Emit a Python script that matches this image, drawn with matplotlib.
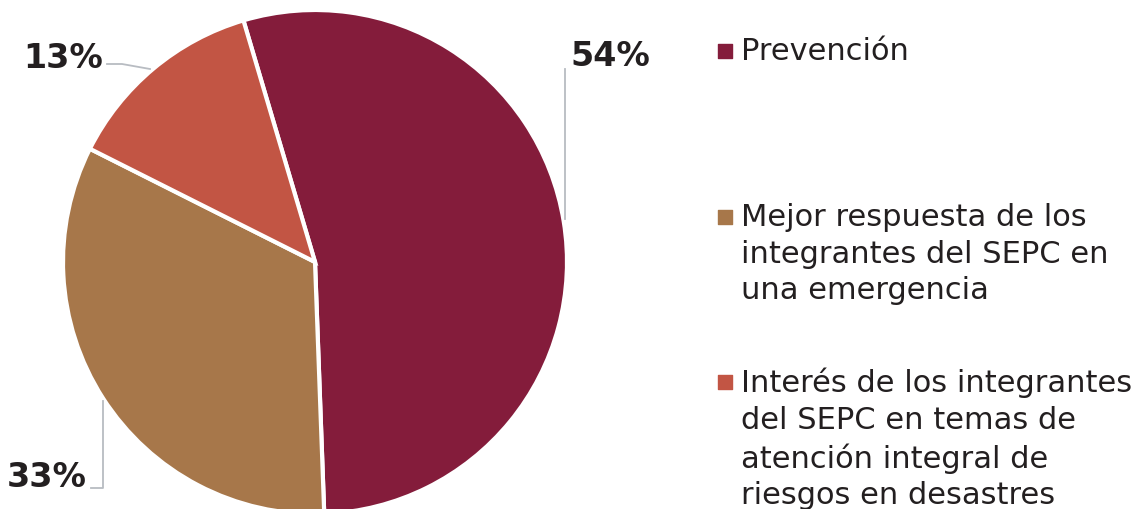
import matplotlib.pyplot as plt
import numpy as np

# datos
categorias = ["Prevención",
              "Mejor respuesta de los\nintegrantes del SEPC en\nuna emergencia",
              "Interés de los integrantes\ndel SEPC en temas de\natención integral de\nriesgos en desastres"]
valores = [54, 33, 13]
etiquetas = ["54%", "33%", "13%"]
colores = ["#841C3B", "#A7774A", "#C25544"]

plt.rcParams['font.family'] = ['DejaVu Sans']
texto = "#231F20"

fig = plt.figure(figsize=(11.41, 5.10), dpi=100)
ax = fig.add_axes([0, 0, 1, 1])

# el eje y esta invertido, entonces counterclock=True dibuja en sentido horario
wedges, _ = ax.pie(valores, colors=colores, startangle=-106.5, counterclock=True,
                   center=(315, 263), radius=252,
                   wedgeprops=dict(edgecolor="white", linewidth=3))
ax.set_xlim(0, 1141)
ax.set_ylim(510, 0)
ax.set_aspect('equal')
ax.axis('off')

# etiquetas de porcentaje con lineas guia
gris = "#B8BCC2"
ax.plot([565, 565], [220, 70], color=gris, lw=1.3)
ax.text(570, 57, etiquetas[0], fontsize=24, fontweight='bold', color=texto, va='center', ha='left')
ax.plot([103, 103, 91], [402, 489, 489], color=gris, lw=1.3)
ax.text(87, 478, etiquetas[1], fontsize=24, fontweight='bold', color=texto, va='center', ha='right')
ax.plot([107, 122, 150], [65, 65, 70], color=gris, lw=1.3)
ax.text(103, 58, etiquetas[2], fontsize=24, fontweight='bold', color=texto, va='center', ha='right')

# leyenda manual
ys = [52, 218, 383]
for cat, col, y in zip(categorias, colores, ys):
    ax.scatter([725], [y], marker='s', s=100, color=col, zorder=3)
    ax.text(741, y - 15, cat, fontsize=22, color=texto, va='top', ha='left',
            linespacing=1.33)

fig.savefig("out.png", dpi=100)
